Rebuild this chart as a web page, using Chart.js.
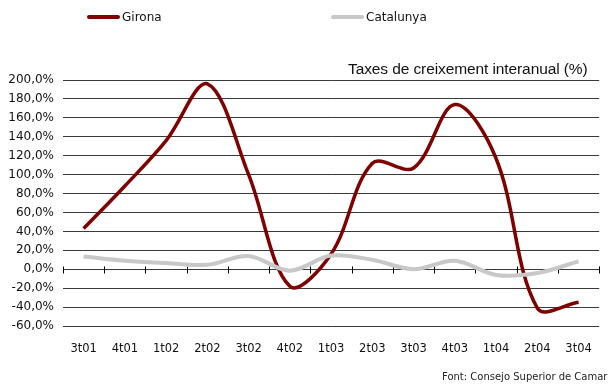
<!DOCTYPE html>
<html>
<head>
<meta charset="utf-8">
<script src="https://cdn.jsdelivr.net/npm/chart.js@4.4.0/dist/chart.umd.min.js"></script>
<style>
  html, body { margin: 0; padding: 0; background: #fff; }
  body { width: 608px; height: 385px; position: relative; overflow: hidden; font-family: "DejaVu Sans", sans-serif; }
  #wrap { position: absolute; left: 0; top: 0; width: 608px; height: 385px; }
  .legend-item { position: absolute; top: 9px; font-size: 12px; color: #111; line-height: 16px; white-space: nowrap; }
  .legend-item span.swatch { display: inline-block; width: 33px; height: 4px; border-radius: 2px; vertical-align: middle; margin-right: 2px; position: relative; top: -1px; }
  #leg0 { left: 87px; }
  #leg1 { left: 331px; }
  #subtitle { position: absolute; left: 348px; top: 60px; font-family: "Liberation Sans", Arial, sans-serif; font-size: 15.5px; color: #111; white-space: nowrap; letter-spacing: -0.1px; }
  #source { position: absolute; left: 442px; top: 371px; font-size: 10px; color: #222; white-space: nowrap; }
</style>
</head>
<body>
<div id="wrap"><canvas id="chart" width="608" height="385"></canvas></div>
<div id="legend"></div>
<div id="subtitle">Taxes de creixement interanual (%)</div>
<div id="source">Font: Consejo Superior de Camaras</div>
<script>
// Data
const quarters = ["3t01", "4t01", "1t02", "2t02", "3t02", "4t02", "1t03", "2t03", "3t03", "4t03", "1t04", "2t04", "3t04"];
const gironaValues = [43, 88, 136, 196, 100, -18, 16, 112, 107, 174, 117, -41, -35];
const catalunyaValues = [13.4, 9, 6.5, 4.7, 14, -1.5, 14.5, 10, 0, 9, -6, -4, 8.3];
const seriesNames = ["Girona", "Catalunya"];
const seriesColors = ["#800000", "#c8c8c8"];

// HTML legend
const legend = document.getElementById("legend");
seriesNames.forEach((name, i) => {
  const item = document.createElement("div");
  item.className = "legend-item";
  item.id = "leg" + i;
  item.innerHTML = '<span class="swatch" style="background:' + seriesColors[i] + '"></span>' + name;
  legend.appendChild(item);
});

// tick marks on the zero line at category boundaries
const zeroTicks = {
  id: "zeroTicks",
  beforeDatasetsDraw(chart) {
    const ctx = chart.ctx;
    const x = chart.scales.x;
    const y0 = Math.round(chart.scales.y.getPixelForValue(0)) + 0.5;
    ctx.save();
    ctx.strokeStyle = "#000";
    ctx.lineWidth = 1;
    ctx.beginPath();
    for (let i = 0; i <= quarters.length; i++) {
      const px = Math.round(x.getPixelForValue(i - 0.5)) + 0.5;
      ctx.moveTo(px, y0 - 3);
      ctx.lineTo(px, y0 + 4);
    }
    ctx.stroke();
    ctx.restore();
  },
};

const ctx = document.getElementById("chart").getContext("2d");
new Chart(ctx, {
  type: "line",
  data: {
    labels: quarters,
    datasets: [
      {
        label: seriesNames[1],
        data: catalunyaValues,
        borderColor: seriesColors[1],
        borderWidth: 4,
        pointRadius: 0,
        tension: 0.35,
      },
      {
        label: seriesNames[0],
        data: gironaValues,
        borderColor: seriesColors[0],
        borderWidth: 3.5,
        pointRadius: 0,
        tension: 0.35,
      },
    ],
  },
  options: {
    responsive: false,
    animation: false,
    events: [],
    layout: { padding: { top: 80, right: 5, bottom: 19, left: 0 } },
    plugins: { legend: { display: false }, tooltip: { enabled: false } },
    scales: {
      x: {
        offset: true,
        grid: { display: false, drawTicks: false },
        border: { display: false },
        ticks: { color: "#111", font: { family: "DejaVu Sans", size: 11.5 }, padding: 16, maxRotation: 0, autoSkip: false },
        afterFit(scale) { scale.height = 40; },
      },
      y: {
        min: -60,
        max: 200,
        grid: { color: "#3a3a3a", lineWidth: 1, drawTicks: false },
        border: { display: false },
        ticks: {
          stepSize: 20,
          color: "#111",
          padding: 9,
          font: { family: "DejaVu Sans", size: 12 },
          callback: (v) => v.toFixed(1).replace(".", ",") + "%",
        },
        afterFit(scale) { scale.width = 63; },
      },
    },
  },
  plugins: [zeroTicks],
});
</script>
</body>
</html>
